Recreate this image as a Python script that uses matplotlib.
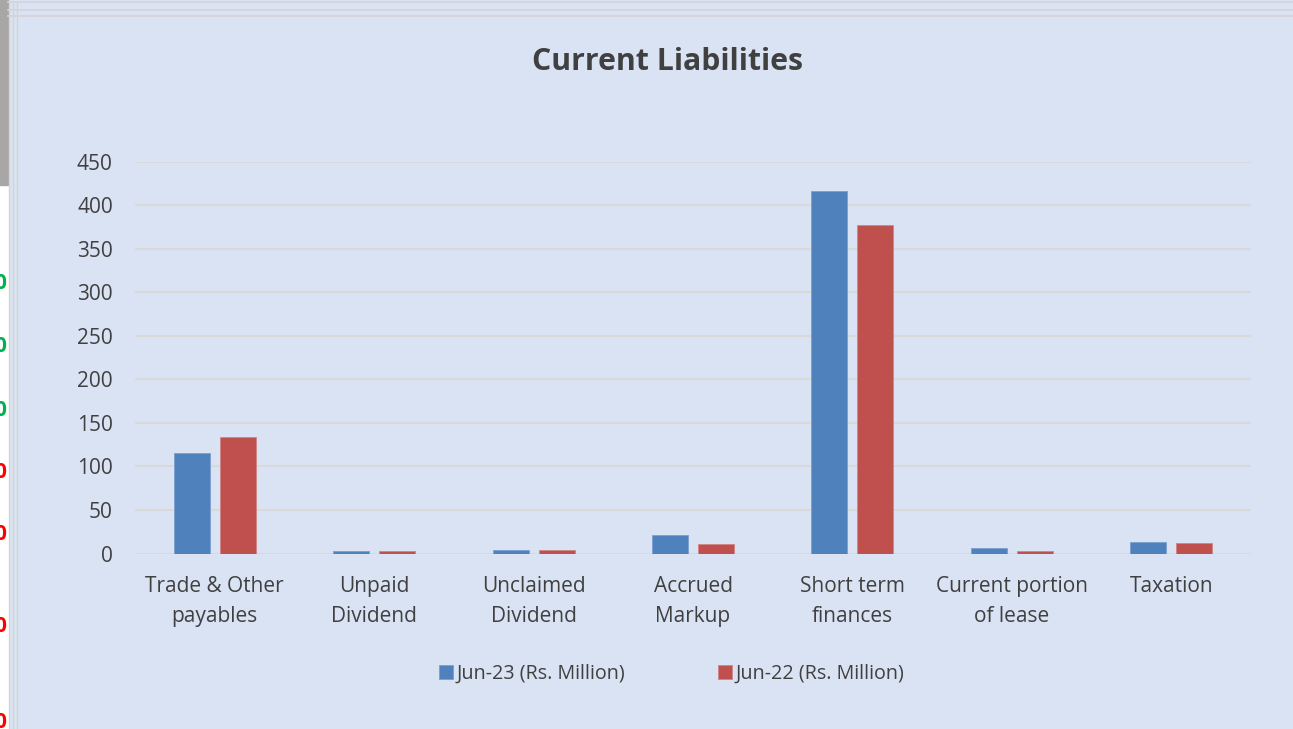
import numpy as np
import matplotlib.pyplot as plt
from matplotlib.patches import Rectangle

categories = ["Trade & Other\npayables", "Unpaid\nDividend", "Unclaimed\nDividend",
              "Accrued\nMarkup", "Short term\nfinances", "Current portion\nof lease", "Taxation"]
jun23 = [115, 3, 4, 21.5, 416, 6.5, 13]
jun22 = [134, 3, 4, 10.5, 377, 3, 12]
series_names = ["Jun-23 (Rs. Million)", "Jun-22 (Rs. Million)"]

plt.rcParams['font.family'] = ['Open Sans', 'DejaVu Sans']
bg = '#dae3f3'
txt = '#404040'
blue = '#4f81bd'
red = '#c0504d'

W, H = 1293, 729
fig = plt.figure(figsize=(W / 100, H / 100), dpi=100)
fig.patch.set_facecolor(bg)

# screenshot edge: spreadsheet strip on the left and chart frame lines
fig.add_artist(Rectangle((0, 0), 8 / W, 1, transform=fig.transFigure, color='white', zorder=0))
fig.add_artist(Rectangle((0, 1 - 185 / H), 8 / W, 185 / H, transform=fig.transFigure, color='#a9a7a6', zorder=1))
for yy in [2, 10, 16]:
    fig.add_artist(plt.Line2D([8 / W, 1], [1 - yy / H] * 2, transform=fig.transFigure, color='#d4d4d4', lw=1.2))
for xx in [9, 13, 17]:
    fig.add_artist(plt.Line2D([xx / W] * 2, [0, 1 - 2 / H], transform=fig.transFigure, color='#d4d4d4', lw=1))
for yy, c in [(284, '#00b050'), (347, '#00b050'), (410, '#00b050'), (472, '#ff0000'),
              (535, '#ff0000'), (626, '#ff0000'), (722, '#ff0000')]:
    fig.text(-6 / W, 1 - yy / H, "0", color=c, fontsize=15, fontweight='bold', va='center', ha='left')

ax = fig.add_axes([135 / W, 1 - 553.5 / H, (1251 - 135) / W, (553.5 - 161.5) / H])
ax.set_facecolor(bg)
x = np.arange(len(categories))
bw = 0.226
ax.bar(x - 0.144, jun23, bw, color=blue, edgecolor='#7a9fd0', linewidth=0.6, label=series_names[0], zorder=3)
ax.bar(x + 0.144, jun22, bw, color=red, edgecolor='#d08583', linewidth=0.6, label=series_names[1], zorder=3)

ax.set_xlim(-0.5, len(categories) - 0.5)
ax.set_ylim(0, 450)
ax.set_yticks(range(0, 451, 50))
ax.grid(axis='y', color='#d9d9d9', lw=1.5, zorder=0)
for s in ax.spines.values():
    s.set_visible(False)
ax.tick_params(length=0, labelsize=15, colors=txt)
ax.tick_params(axis='y', pad=16)
ax.tick_params(axis='x', pad=16)
ax.set_xticks(x)
ax.set_xticklabels(categories, linespacing=1.55)

fig.text(668 / W, 1 - 61.5 / H, "Current Liabilities", ha='center', va='center',
         fontsize=21.8, fontweight='bold', color=txt)

leg = fig.legend(loc='center', bbox_to_anchor=(672 / W, 1 - 674 / H), ncol=2, frameon=False,
                 fontsize=14.2, handlelength=0.68, handleheight=0.68, handletextpad=0.2,
                 columnspacing=4.7, borderpad=0, borderaxespad=0)
for t in leg.get_texts():
    t.set_color(txt)

fig.savefig('out.png', dpi=100, facecolor=bg)
